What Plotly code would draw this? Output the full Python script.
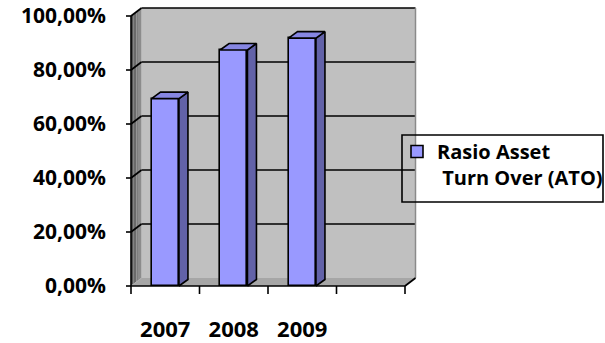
import plotly.graph_objects as go

# ---- data -------------------------------------------------------------
years = ["2007", "2008", "2009"]
ato_pct = [69.4, 87.4, 91.8]          # Rasio Asset Turn Over, in percent
y_tick_vals = [0, 20, 40, 60, 80, 100]
y_tick_text = ["0,00%", "20,00%", "40,00%", "60,00%", "80,00%", "100,00%"]
series_name = "Rasio Asset<br> Turn Over (ATO)"
n_slots = 4                           # category slots on the floor (last one empty)

# ---- geometry (pixels) ------------------------------------------------
W, H = 605, 343
PLOT_L, PLOT_R, PLOT_T, PLOT_B = 120, 425, 4, 300
X0_PX, Y0_PX = 131, 286               # front-left corner of the floor
SLOT_PX = 68.5                        # width of one category slot
PCT_PX = 2.7                          # height of 1 %
DEPTH_X, DEPTH_Y = 10.5, 8.0          # wall depth offset
BAR_DX, BAR_DY = 9.0, 6.5             # column depth offset
BAR_W = 0.4

# convert to axis units
DX, DY = DEPTH_X / SLOT_PX, DEPTH_Y / PCT_PX
BDX, BDY = BAR_DX / SLOT_PX, BAR_DY / PCT_PX
XL = -0.5                             # left edge of the first slot
XR = XL + n_slots                     # right edge of the last slot
YTOP = max(y_tick_vals)
x_range = [XL - (X0_PX - PLOT_L) / SLOT_PX, XL + (PLOT_R - X0_PX) / SLOT_PX]
y_range = [-(PLOT_B - Y0_PX) / PCT_PX, (Y0_PX - PLOT_T) / PCT_PX]

FONT = "Open Sans"
BLACK = "#000000"
LW = 1.6


def poly(points):
    return "M " + " L ".join(f"{x},{y}" for x, y in points) + " Z"


def seg(x0, y0, x1, y1, color=BLACK, width=LW, layer="below"):
    return dict(type="line", xref="x", yref="y", x0=x0, y0=y0, x1=x1, y1=y1,
                line=dict(color=color, width=width), layer=layer)


shapes = []
# back wall
shapes.append(dict(type="rect", xref="x", yref="y", x0=XL + DX, x1=XR + DX,
                   y0=DY, y1=YTOP + DY, fillcolor="#c0c0c0",
                   line=dict(width=0), layer="below"))
# floor
shapes.append(dict(type="path", xref="x", yref="y",
                   path=poly([(XL, 0), (XR, 0), (XR + DX, DY), (XL + DX, DY)]),
                   fillcolor="#a6a6a6", line=dict(width=0), layer="below"))
# left side wall, shaded dark to light in strips
side_tones = ["#555555", "#6a6a6a", "#7e7e7e", "#8c8c8c"]
n_strip = len(side_tones)
for i, tone in enumerate(side_tones):
    f0, f1 = i / n_strip, (i + 1) / n_strip
    shapes.append(dict(type="path", xref="x", yref="y",
                       path=poly([(XL + DX * f0, DY * f0), (XL + DX * f1, DY * f1),
                                  (XL + DX * f1, YTOP + DY * f1),
                                  (XL + DX * f0, YTOP + DY * f0)]),
                       fillcolor=tone, line=dict(width=0), layer="below"))
# gridlines on the back and side walls
for v in y_tick_vals[1:]:
    shapes.append(seg(XL + DX, v + DY, XR + DX, v + DY))
    shapes.append(seg(XL, v, XL + DX, v + DY))
shapes.append(seg(XL, 0, XL + DX, DY, color="#b0b0b0", width=1))
# right edge of the back wall and floor
shapes.append(seg(XR + DX, DY, XR + DX, YTOP + DY, color="#8a8a8a", width=1.5))
shapes.append(seg(XR, 0, XR + DX, DY))
# value axis: line and outside ticks
shapes.append(seg(XL, 0, XL, YTOP, layer="above"))
for v in y_tick_vals:
    shapes.append(seg(XL - 5 / SLOT_PX, v, XL, v, layer="above"))
# category axis: line and ticks on slot boundaries
shapes.append(seg(XL, 0, XR, 0, layer="above"))
for k in range(n_slots + 1):
    shapes.append(seg(XL + k, 0, XL + k, -8 / PCT_PX, layer="above"))

fig = go.Figure()

# front faces of the columns
fig.add_trace(go.Bar(
    x=list(range(len(years))), y=ato_pct, width=BAR_W, name=series_name,
    marker=dict(color="#9999ff", line=dict(color=BLACK, width=LW)),
    hoverinfo="skip",
))

# right side and top faces of the columns
for i, v in enumerate(ato_pct):
    xl, xr = i - BAR_W / 2, i + BAR_W / 2
    side = [(xr, 0), (xr + BDX, BDY), (xr + BDX, v + BDY), (xr, v), (xr, 0)]
    top = [(xl, v), (xr, v), (xr + BDX, v + BDY), (xl + BDX, v + BDY), (xl, v)]
    for pts, col in ((side, "#6262a8"), (top, "#8686e2")):
        fig.add_trace(go.Scatter(
            x=[p[0] for p in pts], y=[p[1] for p in pts], mode="lines",
            fill="toself", fillcolor=col, line=dict(color=BLACK, width=LW),
            showlegend=False, hoverinfo="skip",
        ))

# legend frame
lg_l, lg_r, lg_t, lg_b = 402, 603, 135, 202
shapes.append(dict(type="rect", xref="paper", yref="paper",
                   x0=(lg_l - PLOT_L) / (PLOT_R - PLOT_L),
                   x1=(lg_r - PLOT_L) / (PLOT_R - PLOT_L),
                   y0=(PLOT_B - lg_b) / (PLOT_B - PLOT_T),
                   y1=(PLOT_B - lg_t) / (PLOT_B - PLOT_T),
                   line=dict(color=BLACK, width=LW), fillcolor="rgba(0,0,0,0)",
                   layer="above"))

x_tick_font = dict(family=FONT, size=22, color=BLACK, weight="bold")
y_tick_font = dict(family=FONT, size=21, color=BLACK, weight="bold")

fig.update_layout(
    width=W, height=H,
    margin=dict(l=PLOT_L, r=W - PLOT_R, t=PLOT_T, b=H - PLOT_B, pad=0,
                autoexpand=False),
    paper_bgcolor="white", plot_bgcolor="rgba(0,0,0,0)",
    shapes=shapes,
    showlegend=True,
    legend=dict(xref="container", yref="container",
                x=(lg_l - 5) / W, y=1 - (lg_t - 3) / H,
                xanchor="left", yanchor="top", valign="top",
                bgcolor="rgba(0,0,0,0)", borderwidth=0,
                font=dict(family=FONT, size=20, color=BLACK, weight="bold")),
    xaxis=dict(range=x_range, tickvals=list(range(len(years))), ticktext=years,
               showgrid=False, zeroline=False, showline=False, ticks="",
               ticklabelstandoff=14, tickfont=x_tick_font, fixedrange=True,
               automargin=False, ticklabeloverflow="allow"),
    yaxis=dict(range=y_range, tickvals=y_tick_vals, ticktext=y_tick_text,
               showgrid=False, zeroline=False, showline=False, ticks="",
               ticklabelstandoff=13, tickfont=y_tick_font, fixedrange=True,
               automargin=False, ticklabeloverflow="allow"),
    bargap=0,
)

fig.write_html("out.html")
